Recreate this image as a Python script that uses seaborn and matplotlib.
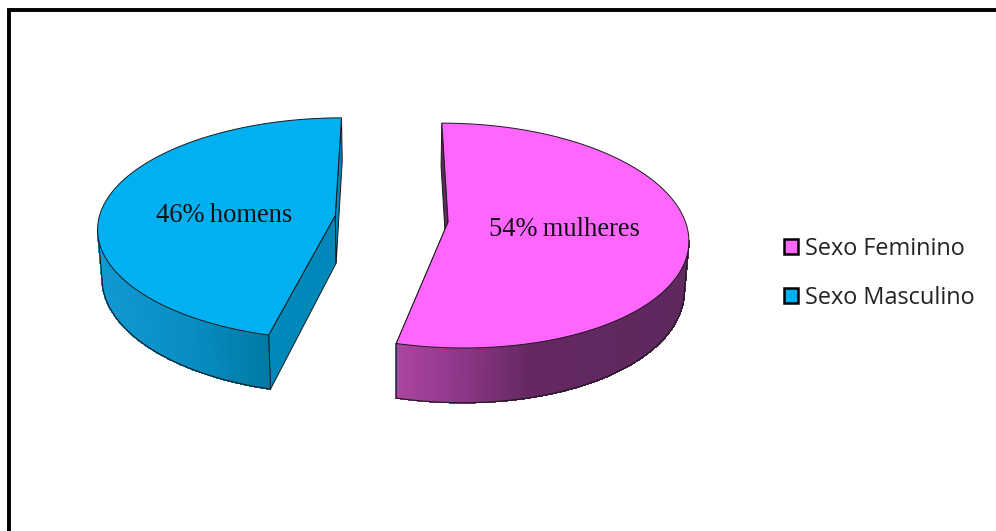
import numpy as np
import matplotlib
matplotlib.use("Agg")
import matplotlib.pyplot as plt
import matplotlib.colors as mcolors
from matplotlib.patches import Patch
import seaborn as sns

# Survey split by sex
categories = ["Sexo Feminino", "Sexo Masculino"]
shares = [54, 46]
nouns = ["mulheres", "homens"]
top_colors = ["#FF66FF", "#00B0F0"]
cut_colors = ["#5E2A5E", "#0088BA"]
# Shading along the outer wall: (pixel x, colour)
wall_stops = [
    [(398, "#AB459F"), (450, "#93398D"), (530, "#642862"), (690, "#5F285F")],
    [(100, "#1099D2"), (190, "#088DC2"), (268, "#0079A4")],
]

sns.set_theme(style="white")
plt.rcParams["font.family"] = ["Open Sans", "DejaVu Sans"]

# Tilted-disc camera
CX, CY, RX, RY = 391.5, 218.7, 236.5, 110.0
PERSPECTIVE = 0.12
BOW = 3.8
DEPTH = 48.0
EXPLODE = 0.24
UNDERSIDE_SHRINK = 0.015


def project(X, Y, z=0.0):
    """Map disc-plane coordinates to pixels; z=1 is the underside of the pie."""
    X, Y = np.asarray(X, float), np.asarray(Y, float)
    w = 1 + PERSPECTIVE * Y
    x = CX + RX * X / w + BOW * Y * (Y - 1)
    y = CY - RY * Y / w + z * DEPTH / w
    if z:
        x = CX + (x - CX) * (1 - UNDERSIDE_SHRINK * z)
    return x, y


def wall_colour(x, stops):
    xs = [s[0] for s in stops]
    rgb = np.array([mcolors.to_rgb(s[1]) for s in stops])
    return tuple(np.interp(x, xs, rgb[:, i]) for i in range(3))


fig = plt.figure(figsize=(9.96, 5.31), dpi=100, facecolor="white")
ax = fig.add_axes([0, 0, 1, 1])
ax.set_xlim(0, 996)
ax.set_ylim(531, 0)
ax.axis("off")

# Outer frame, running off the right and bottom edges
ax.plot([9.0, 9.0, 1010], [545, 9.6, 9.6], color="black", lw=2.8,
        solid_joinstyle="miter", zorder=1)

palette = sns.color_palette(top_colors)
total = sum(shares)
start = 0.0
for share, colour, cut, stops in zip(shares, palette, cut_colors, wall_stops):
    sweep = 2 * np.pi * share / total
    theta = np.linspace(start, start + sweep, 360)
    mid = start + sweep / 2
    ex, ey = EXPLODE * np.sin(mid), EXPLODE * np.cos(mid)
    u, v = ex + np.sin(theta), ey + np.cos(theta)

    # Cut faces, back one first
    for i in (0, -1):
        xt, yt = project([ex, u[i]], [ey, v[i]])
        xb, yb = project([ex, u[i]], [ey, v[i]], 1)
        ax.fill([xt[0], xt[1], xb[1], xb[0]], [yt[0], yt[1], yb[1], yb[0]],
                facecolor=cut, edgecolor="#1a1a1a", lw=0.7, zorder=2)

    # Outer wall, shaded strip by strip from the silhouette to the front edge
    xt, yt = project(u, v)
    xb, yb = project(u, v, 1)
    turn = int(np.argmax(np.abs(xt - CX)))
    front = 0 if yt[0] > yt[-1] else len(theta) - 1
    seen = np.arange(0, turn + 1) if front == 0 else np.arange(turn, len(theta))
    for j in seen[:-1]:
        c = wall_colour((xt[j] + xt[j + 1]) / 2, stops)
        ax.fill([xt[j], xt[j + 1], xb[j + 1], xb[j]],
                [yt[j], yt[j + 1], yb[j + 1], yb[j]],
                facecolor=c, edgecolor=c, lw=0.6, antialiased=False, zorder=3)
    ax.plot(xb[seen], yb[seen], color="#1a1a1a", lw=0.8, zorder=4)
    for k in (front, turn):
        ax.plot([xt[k], xb[k]], [yt[k], yb[k]], color="#1a1a1a", lw=0.7, zorder=4)

    # Top face
    ax0, ay0 = project(ex, ey)
    ax.fill(np.r_[ax0, xt], np.r_[ay0, yt], facecolor=colour,
            edgecolor="#1a1a1a", lw=0.7, joinstyle="miter", zorder=5)
    start += sweep

# Slice captions
label_xy = [(564, 229), (224, 215)]
for share, noun, (lx, ly) in zip(shares, nouns, label_xy):
    ax.text(lx, ly, f"{share}%\u2009{noun}", ha="center", va="center",
            family=["Liberation Serif", "DejaVu Serif"], fontsize=19.1,
            color="#111111", zorder=6)

handles = [Patch(facecolor=c, edgecolor="black", lw=1.8) for c in palette]
ax.legend(handles, categories, loc="center left", bbox_to_anchor=(0.787, 0.485),
          frameon=False, fontsize=16.9, labelcolor="#222222", handlelength=0.6,
          handleheight=0.6, handletextpad=0.32, labelspacing=1.07, borderpad=0,
          borderaxespad=0)

fig.savefig("out.png", dpi=100, facecolor="white")
